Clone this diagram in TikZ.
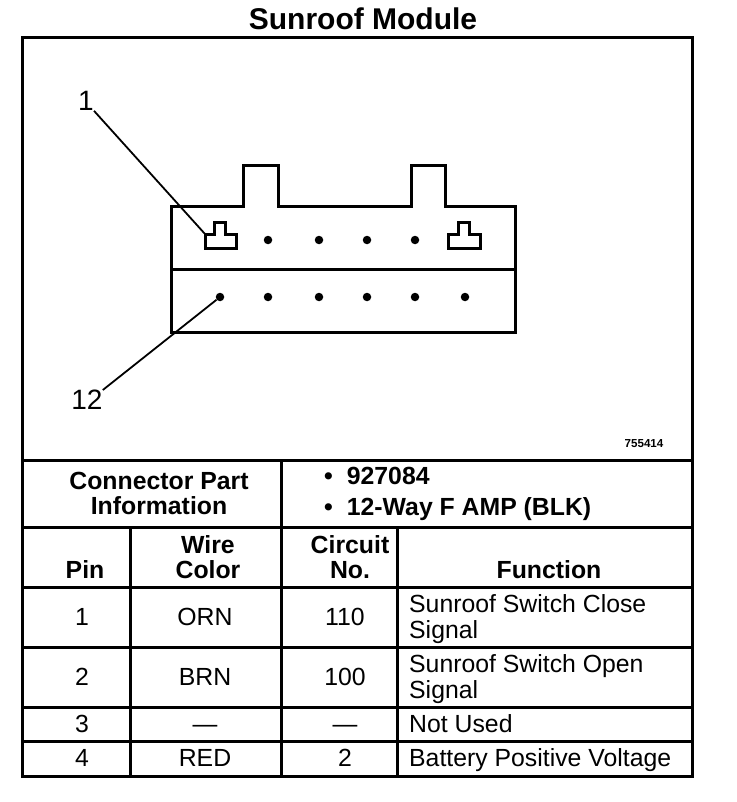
\documentclass[tikz,border=0pt]{standalone}
\usepackage{fontspec}
\setmainfont{Liberation Sans}
\tikzset{
  rule/.style={line width=3pt,line cap=rect},
  part/.style={line width=3pt,line join=miter},
  leader/.style={line width=1.8pt},
  pin/.style={circle,fill=black,inner sep=0pt,minimum size=8.5pt},
  head/.style={inner sep=0pt,align=center,font=\fontsize{24.8}{25}\selectfont\bfseries},
  cell/.style={inner sep=0pt,align=center,text height=16pt,text depth=0pt,font=\fontsize{24.8}{25}\selectfont},
  fn/.style={inner sep=0pt,anchor=west,align=left,font=\fontsize{24.8}{26}\selectfont},
  oneline/.style={text height=16pt,text depth=0pt},
  callout/.style={inner sep=0pt,font=\fontsize{28}{30}\selectfont}
}
\begin{document}
\begin{tikzpicture}[x=1pt,y=-1pt]
 \useasboundingbox (0,0) rectangle (736,802);
 % frame and table rules
 \draw[rule] (22,38) rectangle (692,776);
 \draw[rule] (22,460)--(692,460);
 \draw[rule] (22,527)--(692,527);
 \draw[rule] (22,587)--(692,587);
 \draw[rule] (22,647)--(692,647);
 \draw[rule] (22,707)--(692,707);
 \draw[rule] (22,741)--(692,741);
 \draw[rule] (281,460)--(281,776);
 \draw[rule] (130,527)--(130,776);
 \draw[rule] (397,527)--(397,776);
 % connector body
 \draw[part] (171,207)--(243,207)--(243,166)--(278,166)--(278,207)--(411,207)--(411,166)--(445,166)--(445,207)--(515,207)--(515,332)--(171,332)--cycle;
 \draw[part] (171,269)--(515,269);
 \draw[part] (205,248)--(205,234)--(214,234)--(214,223)--(225,223)--(225,234)--(236,234)--(236,248)--cycle;
 \draw[part] (448,248)--(448,234)--(458,234)--(458,223)--(469,223)--(469,234)--(480,234)--(480,248)--cycle;
 \foreach \x [count=\i] in {268,319,367,415}
  \node[pin] (top\i) at (\x,240) {};
 \foreach \x [count=\i] in {220,268,319,367,415,465}
  \node[pin] (bot\i) at (\x,297) {};
 % callouts
 \node[callout] (pinone) at (86,101) {1};
 \node[callout] (pintwelve) at (87,400) {12};
 \coordinate (keyleft) at (205,234);
 \draw[leader] (pinone.south east)--(keyleft);
 \draw[leader] (pintwelve.north east)--(bot1);
 % texts
 \node[inner sep=0pt,font=\fontsize{30}{32}\selectfont\bfseries] (title) at (363,19) {Sunroof Module};
 \node[inner sep=0pt,font=\fontsize{11.6}{14}\selectfont\bfseries] (partno) at (644,444) {755414};
 \node[head] (info) at (159,493) {Connector Part\\Information};
 \node[head,anchor=west] (num) at (324,476) {•\hspace{14pt}927084};
 \node[head,anchor=west] (way) at (324,509) {•\hspace{14pt}12-Way F AMP (BLK)};
 \node[head] (hpin) at (85,570) {Pin};
 \node[head] (hwire) at (208,557) {Wire\\Color};
 \node[head] (hcirc) at (350,557) {Circuit\\No.};
 \node[head] (hfunc) at (549,570) {Function};
 \node[cell] (p1) at (82,617) {1};
 \node[cell] (w1) at (205,617) {ORN};
 \node[cell] (c1) at (345,617) {110};
 \node[fn] (f1) at (409,619) {Sunroof Switch Close\\Signal};
 \node[cell] (p2) at (82,677) {2};
 \node[cell] (w2) at (205,677) {BRN};
 \node[cell] (c2) at (345,677) {100};
 \node[fn] (f2) at (409,679) {Sunroof Switch Open\\Signal};
 \node[cell] (p3) at (82,724) {3};
 \node[cell] (w3) at (205,724) {—};
 \node[cell] (c3) at (345,724) {—};
 \node[fn,oneline] (f3) at (409,724) {Not Used};
 \node[cell] (p4) at (82,758) {4};
 \node[cell] (w4) at (205,758) {RED};
 \node[cell] (c4) at (345,758) {2};
 \node[fn,oneline] (f4) at (409,758) {Battery Positive Voltage};
\end{tikzpicture}
\end{document}
